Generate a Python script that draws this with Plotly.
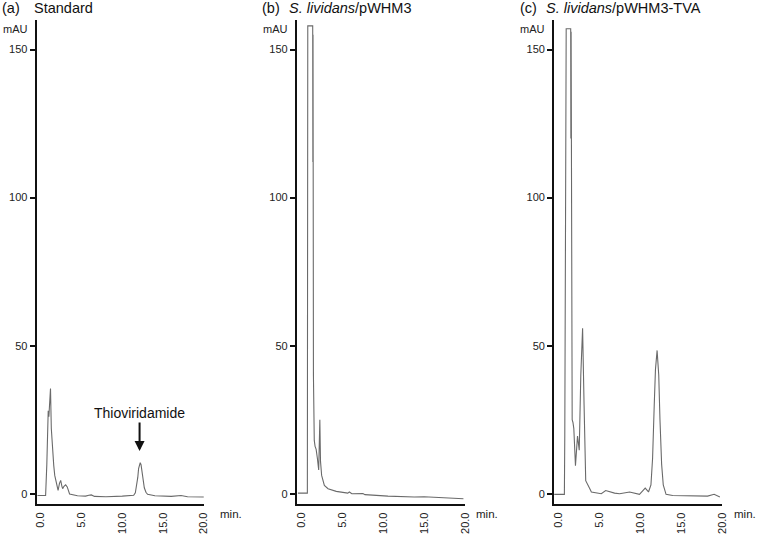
import plotly.graph_objects as go

# ---- data (retention time in min, absorbance in mAU) ----
a_time = [-0.4, 0.6, 0.75, 0.92, 1.0, 1.2, 1.3, 1.4, 1.6, 1.72, 1.95, 2.13, 2.3, 2.45, 2.6, 2.69, 2.85,
          3.06, 3.25, 3.54, 4.5, 5.5, 5.9, 6.2, 6.6, 8.0, 10.0, 11.0, 11.4, 11.6, 11.8, 11.9, 12.0, 12.1,
          12.2, 12.3, 12.4, 12.5, 12.6, 12.7, 12.9, 13.1, 14.0, 16.0, 17.2, 18.0, 20.0]
a_val = [-0.6, -0.6, 10, 28, 26, 35.5, 22, 16.3, 9.5, 6.2, 2.8, 1.1, 3.5, 4.5, 2.5, 1.7, 2.5,
         3.0, 2.3, -0.1, -0.7, -0.8, -0.5, -0.4, -0.9, -1.0, -0.8, -0.7, -0.5, 0.3, 3, 5.5, 8.5, 10,
         10.5, 9.8, 8, 5.5, 3.5, 2, 0.5, -0.2, -0.7, -0.9, -0.6, -1.0, -1.1]

b_time = [-0.37, 0.78, 0.83, 1.43, 1.45, 1.47, 1.52, 1.56, 1.62, 1.72, 1.85, 2.0, 2.16, 2.3, 2.38,
          2.52, 2.85, 3.3, 4.3, 5.7, 5.9, 6.2, 7.55, 7.8, 10.6, 13.8, 15.0, 19.8]
b_val = [0.2, 0.2, 158, 158, 112, 155, 40, 24, 18, 16, 15, 12, 8, 25, 11,
         6.2, 2.8, 1.7, 0.8, 0.2, 0.6, 0.0, 0.1, -0.3, -0.8, -1.1, -1.0, -1.7]

c_time = [-0.5, 0.75, 0.8, 0.9, 0.97, 1.52, 1.54, 1.57, 1.7, 1.8, 1.9, 2.1, 2.35, 2.56, 2.75, 2.97,
          3.15, 3.35, 3.88, 4.04, 5.25, 5.78, 6.87, 7.48, 8.7, 9.3, 9.9, 10.6, 11.0, 11.3, 11.5, 11.7,
          11.85, 12.05, 12.25, 12.4, 12.6, 12.8, 13.14, 13.94, 18.2, 19.0, 19.7]
c_val = [-0.2, -0.2, 20, 100, 157, 157, 120, 156, 25, 24, 22, 9.5, 19.5, 14.7, 40, 55.9,
         30, 4.4, 1.5, 0.6, 0, 1.1, 0.2, 0, 0.6, 0.3, -0.2, 1.9, 0.6, 3, 12, 30,
         42, 48.4, 40, 25, 10, 3, -0.2, -0.6, -0.8, -0.2, -1.1]

x_ticks = [0, 5, 10, 15, 20]
x_tick_labels = ["0.0", "5.0", "10.0", "15.0", "20.0"]
y_ticks = [0, 50, 100, 150]
y_tick_labels = ["0", "50", "100", "150"]

panel_letters = ["(a)", "(b)", "(c)"]
panel_titles = ["Standard", "<i>S. lividans</i>/pWHM3", "<i>S. lividans</i>/pWHM3-TVA"]
peak_label = "Thioviridamide"
peak_label_time = 12.12
peak_label_value = 14.4

# ---- layout geometry (pixels) ----
W, H = 760, 534
FONT = "Liberation Sans, Arial, Helvetica, sans-serif"
LINE = "#6a6a6a"

def px(x):
    return x / W

def py(y):
    return 1 - y / H

x_domains = [(35, 204), (298, 468), (558, 728)]
y_dom = (py(506), py(20))

series = [(a_time, a_val), (b_time, b_val), (c_time, c_val)]

fig = go.Figure()
layout = dict(
    width=W, height=H,
    margin=dict(l=0, r=0, t=0, b=0),
    paper_bgcolor="white", plot_bgcolor="white",
    showlegend=False,
    font=dict(family=FONT, size=11, color="#222"),
)

for i, ((t, v), (x0, x1)) in enumerate(zip(series, x_domains)):
    sfx = "" if i == 0 else str(i + 1)
    fig.add_trace(go.Scatter(x=t, y=v, mode="lines", line=dict(color=LINE, width=1.1),
                             xaxis="x" + sfx, yaxis="y" + sfx, hoverinfo="skip"))
    layout["xaxis" + sfx] = dict(
        domain=[px(x0), px(x1)], anchor="y" + sfx, range=[-0.5, 20],
        showgrid=False, zeroline=False, showline=True, linecolor="#111", linewidth=2,
        tickvals=x_ticks, ticktext=x_tick_labels, tickangle=-90,
        ticks="outside", ticklen=2, tickcolor="rgba(0,0,0,0)",
        tickfont=dict(family=FONT, size=11, color="#222"),
    )
    layout["yaxis" + sfx] = dict(
        domain=list(y_dom), anchor="x" + sfx, range=[-3.5, 160],
        showgrid=False, zeroline=False, showline=True, linecolor="#111", linewidth=2,
        tickvals=y_ticks, ticktext=y_tick_labels,
        ticks="outside", ticklen=5, tickwidth=1.5, tickcolor="#111",
        tickfont=dict(family=FONT, size=11, color="#222"),
    )

annotations = []
letter_x = [-2, 261, 521]
title_x = [30, 288, 548]
mau_x = [14, 276, 536]
min_x = [218, 477, 738]
for i in range(3):
    annotations.append(dict(text=panel_letters[i], x=px(letter_x[i]), y=py(8), xref="paper", yref="paper",
                            xanchor="left", yanchor="middle", showarrow=False,
                            font=dict(family=FONT, size=14.5, color="#111")))
    annotations.append(dict(text=panel_titles[i], x=px(title_x[i]), y=py(8), xref="paper", yref="paper",
                            xanchor="left", yanchor="middle", showarrow=False,
                            font=dict(family=FONT, size=14.5, color="#111")))
    annotations.append(dict(text="mAU", x=px(mau_x[i]), y=py(29), xref="paper", yref="paper",
                            xanchor="center", yanchor="middle", showarrow=False,
                            font=dict(family=FONT, size=11, color="#222")))
    annotations.append(dict(text="min.", x=px(min_x[i]), y=py(516), xref="paper", yref="paper",
                            xanchor="left", yanchor="middle", showarrow=False,
                            font=dict(family=FONT, size=11.5, color="#222")))

annotations.append(dict(text=peak_label, x=peak_label_time, y=peak_label_value, xref="x", yref="y",
                        ax=0, ay=-38, showarrow=True, arrowhead=2, arrowsize=1, arrowwidth=2,
                        arrowcolor="#111", font=dict(family=FONT, size=14, color="#111")))

layout["annotations"] = annotations
fig.update_layout(**layout)
fig.write_html("out.html", config={"displayModeBar": False},
               post_script="document.body.style.margin='0px';document.body.style.padding='0px';")
